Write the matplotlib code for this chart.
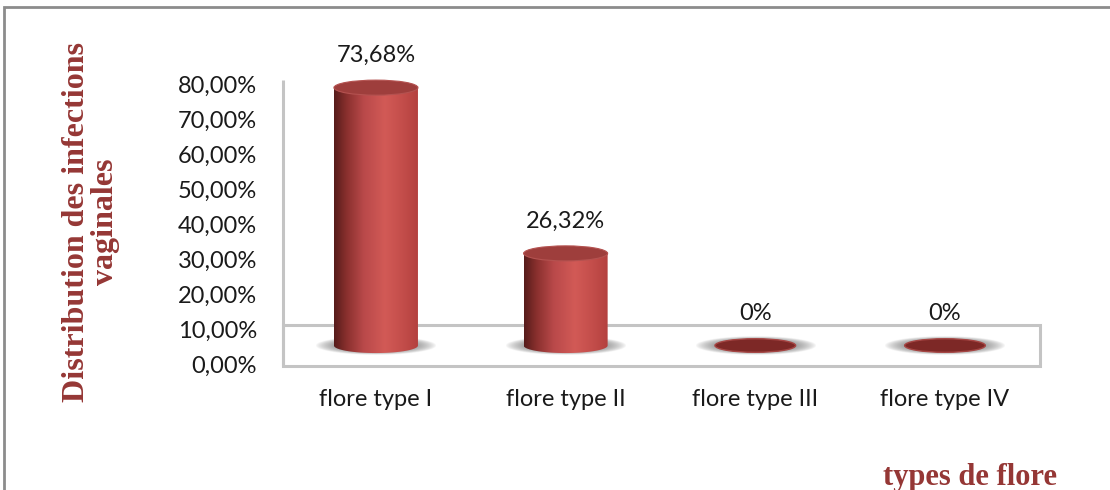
import numpy as np
import matplotlib
matplotlib.use("Agg")
import matplotlib.pyplot as plt
from matplotlib.path import Path
from matplotlib.patches import PathPatch, Ellipse, Rectangle
from matplotlib.colors import LinearSegmentedColormap

categories = ["flore type I", "flore type II", "flore type III", "flore type IV"]
values = [73.68, 26.32, 0.0, 0.0]
value_labels = ["73,68%", "26,32%", "0%", "0%"]
yticks = [0, 10, 20, 30, 40, 50, 60, 70, 80]
ytick_labels = ["0,00%", "10,00%", "20,00%", "30,00%", "40,00%",
                "50,00%", "60,00%", "70,00%", "80,00%"]

title_color = "#953735"
tick_font = "Lato"
tick_size = 17

W, H = 1110, 490
fig = plt.figure(figsize=(W / 100, H / 100), dpi=100)
ax = fig.add_axes([0, 0, 1, 1])
# 3.5 px per percent, 189.7 px per category
ax.set_xlim(-1.982, 3.870)
ax.set_ylim(-35.43, 104.57)
ax.axis("off")

depth = 11.7       # floor depth (percent units)
base = depth / 2   # bars stand in the middle of the floor
bw = 0.443         # bar width in category units
eh = 4.3           # ellipse height in percent units

# floor and back wall
floor_l, floor_r = -0.49, 3.50
ax.add_patch(Rectangle((floor_l, 0), floor_r - floor_l, depth, fill=False,
                       ec="#c4c4c4", lw=2.2, zorder=1))
ax.plot([floor_l, floor_l], [0, 81.7], color="#c4c4c4", lw=2.2, zorder=1,
        solid_capstyle="butt")

cyl = LinearSegmentedColormap.from_list("cyl", [
    (0.0, "#561c1b"), (0.15, "#8a302e"), (0.35, "#b9494a"),
    (0.6, "#d25a56"), (0.8, "#c44e4b"), (1.0, "#b3403e")])

def shadow(x):
    # soft grey blob under each bar
    xs = np.linspace(-1, 1, 120)
    ys = np.linspace(-1, 1, 40)
    X, Y = np.meshgrid(xs, ys)
    a = np.clip(1 - (X ** 2 + Y ** 2), 0, 1) ** 0.8 * 0.95
    rgba = np.zeros(X.shape + (4,))
    rgba[..., :3] = 0.40
    rgba[..., 3] = a
    sw, sh = 0.64, 5.4
    ax.imshow(rgba, extent=(x - sw / 2, x + sw / 2, base - sh / 2, base + sh / 2),
              aspect="auto", interpolation="bilinear", zorder=2)

def cylinder(x, v):
    top = base + v
    t = np.linspace(np.pi, 2 * np.pi, 60)
    bottom = np.column_stack([x + bw / 2 * np.cos(t), base + eh / 2 * np.sin(t)])
    verts = np.vstack([[x - bw / 2, top], bottom, [x + bw / 2, top], [x - bw / 2, top]])
    codes = [Path.MOVETO] + [Path.LINETO] * (len(verts) - 2) + [Path.CLOSEPOLY]
    clip = PathPatch(Path(verts, codes), fc="none", ec="none")
    ax.add_patch(clip)
    grad = np.linspace(0, 1, 256).reshape(1, -1)
    im = ax.imshow(grad, cmap=cyl, extent=(x - bw / 2, x + bw / 2, base - eh, top),
                   aspect="auto", interpolation="bilinear", zorder=3)
    im.set_clip_path(clip)
    ax.add_patch(Ellipse((x, top), bw, eh, fc="#9e3e3c", ec="#b45250",
                         lw=0.8, zorder=4))

def disc(x):
    ax.add_patch(Ellipse((x, base), bw * 0.96, eh * 0.9, fc="#7d2826",
                         ec="#a64543", lw=1.0, zorder=4))

xs = np.arange(len(categories))
for i, v in enumerate(values):
    shadow(xs[i])
    if v > 0:
        cylinder(xs[i], v)
    else:
        disc(xs[i])
    ax.text(xs[i], base + v + eh / 2 + 4.0, value_labels[i], ha="center",
            va="bottom", fontsize=tick_size, family=tick_font, color="#1a1a1a",
            zorder=5)
    ax.text(xs[i], -9.7, categories[i], ha="center", va="center",
            fontsize=tick_size, family=tick_font, color="#1a1a1a")

for v, lab in zip(yticks, ytick_labels):
    ax.text(-0.627, v, lab, ha="right", va="center", fontsize=tick_size,
            family=tick_font, color="#1a1a1a")

fig.text(91 / W, 1 - 222 / H, "Distribution des infections\nvaginales",
         rotation=90, ha="center", va="center", multialignment="center",
         fontsize=23, fontweight="bold", family="Liberation Serif",
         color=title_color, linespacing=1.0)
fig.text(970 / W, 1 - 477 / H, "types de flore", ha="center", va="center",
         fontsize=22, fontweight="bold", family="Liberation Serif",
         color=title_color)

# outer frame
fig.add_artist(Rectangle((4 / W, -0.05), 1.2, 1 - 7 / H + 0.05,
                         transform=fig.transFigure, fill=False,
                         ec="#8c8c8c", lw=2))

fig.savefig("out.png", dpi=100, facecolor="white")
